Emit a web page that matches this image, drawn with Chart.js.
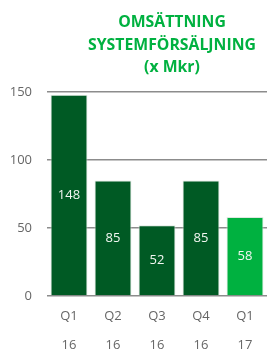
<!DOCTYPE html>
<html>
<head>
<meta charset="utf-8">
<script src="https://cdn.jsdelivr.net/npm/chart.js@4/dist/chart.umd.min.js"></script>
<style>
  body { margin: 0; background: #fff; }
  #wrap { position: relative; width: 267px; height: 349px; }
  #title {
    position: absolute; left: 72px; width: 200px; top: 10px;
    text-align: center; color: #00b140;
    font: bold 15.8px "Open Sans", sans-serif; line-height: 22.5px;
  }
</style>
</head>
<body>
<div id="wrap">
  <canvas id="chart" width="267" height="349"></canvas>
  <div id="title">OMSÄTTNING<br>SYSTEMFÖRSÄLJNING<br>(x Mkr)</div>
</div>
<script>
const quarters = ['Q1', 'Q2', 'Q3', 'Q4', 'Q1'];
const years = ['16', '16', '16', '16', '17'];
const sales = [148, 85, 52, 85, 58];
const barColors = ['#005a24', '#005a24', '#005a24', '#005a24', '#00b140'];

// white value in the middle of each bar
const valueLabels = {
  id: 'valueLabels',
  afterDatasetsDraw(chart) {
    const ctx = chart.ctx;
    const meta = chart.getDatasetMeta(0);
    ctx.save();
    ctx.fillStyle = '#f2f7f2';
    ctx.font = '13px "Open Sans", sans-serif';
    ctx.textAlign = 'center';
    ctx.textBaseline = 'middle';
    meta.data.forEach(function(bar, i) {
      ctx.fillText(sales[i], bar.x, (bar.y + bar.base) / 2);
    });
    ctx.restore();
  }
};

new Chart(document.getElementById('chart'), {
  type: 'bar',
  plugins: [valueLabels],
  data: {
    labels: quarters.map((q, i) => [q, years[i]]),
    datasets: [{
      data: sales,
      backgroundColor: barColors,
      borderColor: 'rgba(220,230,222,0.9)',
      borderWidth: 1,
      categoryPercentage: 1,
      barPercentage: 0.84
    }]
  },
  options: {
    responsive: false,
    animation: false,
    layout: { padding: { top: 92, right: 0, left: 0, bottom: 0 } },
    plugins: {
      legend: { display: false },
      tooltip: { enabled: false }
    },
    scales: {
      y: {
        min: 0,
        max: 150,
        ticks: {
          stepSize: 50,
          padding: 15,
          color: '#666',
          font: { family: 'Open Sans', size: 13 }
        },
        border: { display: false },
        grid: { color: '#8c8c8c', lineWidth: 1.5, drawTicks: false },
        afterFit(axis) { axis.width = 47; }
      },
      x: {
        ticks: {
          padding: 6,
          color: '#666',
          font: { family: 'Open Sans', size: 13, lineHeight: 2.2 }
        },
        border: { display: false },
        grid: { display: false, drawTicks: false },
        afterFit(axis) { axis.height = 53; }
      }
    }
  }
});
</script>
</body>
</html>
